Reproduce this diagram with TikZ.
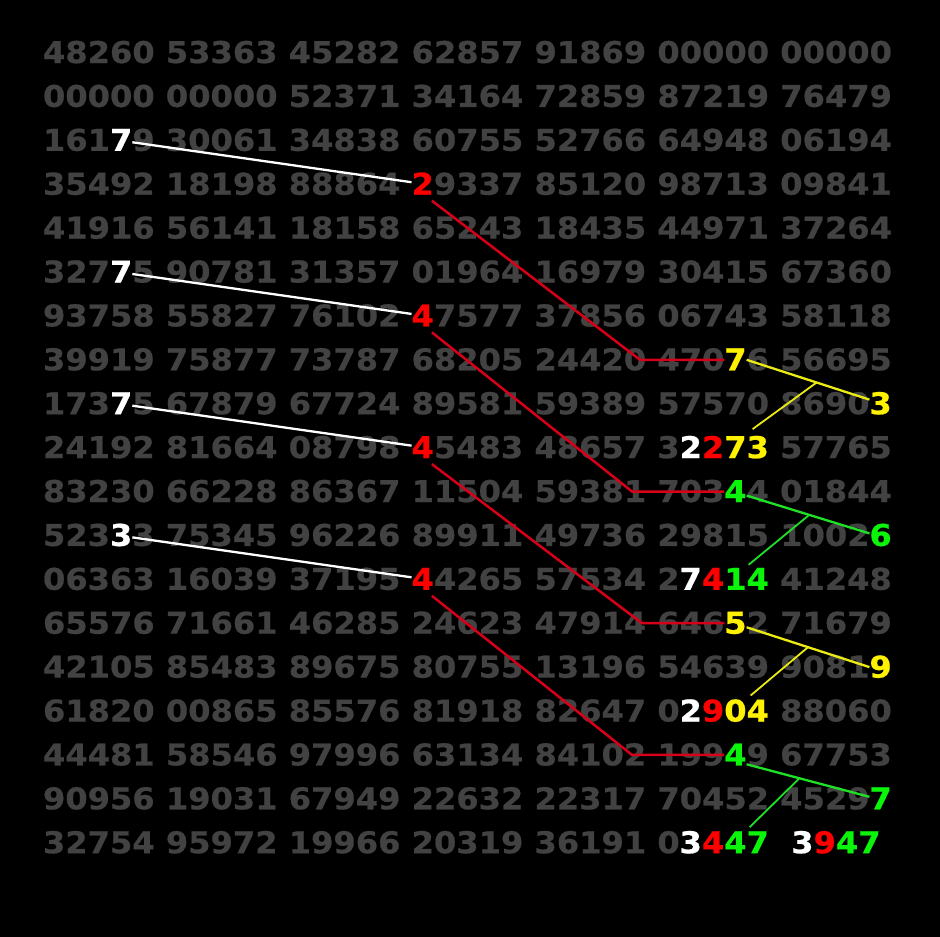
\documentclass[tikz,border=0pt]{standalone}
\usepackage{fontspec}
\usepackage{tikz}
\usetikzlibrary{positioning}

\newfontfamily\numfont{DejaVu Sans}[FakeStretch=1.07, FakeBold=0.7]

\definecolor{numgray}{RGB}{66,66,66}
\definecolor{neon}{RGB}{10,245,10}
\definecolor{lnred}{RGB}{215,0,25}
\definecolor{lnyel}{RGB}{235,235,20}
\definecolor{lngrn}{RGB}{30,225,40}

\begin{document}
\begin{tikzpicture}[x=1pt,y=-1pt,
  dig/.style={font=\numfont\bfseries\fontsize{30}{36}\selectfont, inner sep=0pt, outer sep=0pt, text height=22pt, text depth=1pt},
  gry/.style={dig, text=numgray},
  wht/.style={dig, text=white},
  rd/.style={dig, text=red},
  yl/.style={dig, text=yellow},
  gn/.style={dig, text=neon},
  wline/.style={white, line width=2.3pt},
  rline/.style={lnred, line width=2.5pt},
  yline/.style={lnyel, line width=2.3pt},
  ybranch/.style={lnyel, line width=1.8pt},
  gline/.style={lngrn, line width=2.3pt},
  gbranch/.style={lngrn, line width=1.8pt}]

\fill[black] (0,0) rectangle (940,937);

\node[gry, anchor=base west] (a1) at (43,63) {48260 53363 45282 62857 91869 00000 00000};
\node[gry, anchor=base west] (a2) at (43,106.9) {00000 00000 52371 34164 72859 87219 76479};

\node[gry, anchor=base west] (a3) at (43,150.8) {161};
\node[wht, right=0pt of a3] (w1) {7};
\node[gry, right=0pt of w1] (b3) {9 30061 34838 60755 52766 64948 06194};

\node[gry, anchor=base west] (a4) at (43,194.7) {35492 18198 88864\ \null};
\node[rd, right=0pt of a4] (r1) {2};
\node[gry, right=0pt of r1] (b4) {9337 85120 98713 09841};

\node[gry, anchor=base west] (a5) at (43,238.6) {41916 56141 18158 65243 18435 44971 37264};

\node[gry, anchor=base west] (a6) at (43,282.5) {327};
\node[wht, right=0pt of a6] (w2) {7};
\node[gry, right=0pt of w2] (b6) {5 90781 31357 01964 16979 30415 67360};

\node[gry, anchor=base west] (a7) at (43,326.4) {93758 55827 76102\ \null};
\node[rd, right=0pt of a7] (r2) {4};
\node[gry, right=0pt of r2] (b7) {7577 37856 06743 58118};

\node[gry, anchor=base west] (a8) at (43,370.3) {39919 75877 73787 68205 24420 470};
\node[yl, right=0pt of a8] (h1) {7};
\node[gry, right=0pt of h1] (b8) {6 56695};

\node[gry, anchor=base west] (a9) at (43,414.2) {173};
\node[wht, right=0pt of a9] (w3) {7};
\node[gry, right=0pt of w3] (b9) {5 67879 67724 89581 59389 57570 8690};
\node[yl, right=0pt of b9] (e1) {3};

\node[gry, anchor=base west] (a10) at (43,458.1) {24192 81664 08798\ \null};
\node[rd, right=0pt of a10] (r3) {4};
\node[gry, right=0pt of r3] (b10) {5483 48657 3};
\node[wht, right=0pt of b10] (u1) {2};
\node[rd, right=0pt of u1] (v1) {2};
\node[yl, right=0pt of v1] (x1) {73};
\node[gry, right=0pt of x1] (c10) {\ 57765};

\node[gry, anchor=base west] (a11) at (43,502) {83230 66228 86367 11504 59381 703};
\node[gn, right=0pt of a11] (h2) {4};
\node[gry, right=0pt of h2] (b11) {4 01844};

\node[gry, anchor=base west] (a12) at (43,545.9) {523};
\node[wht, right=0pt of a12] (w4) {3};
\node[gry, right=0pt of w4] (b12) {3 75345 96226 89911 49736 29815 1002};
\node[gn, right=0pt of b12] (e2) {6};

\node[gry, anchor=base west] (a13) at (43,589.8) {06363 16039 37195\ \null};
\node[rd, right=0pt of a13] (r4) {4};
\node[gry, right=0pt of r4] (b13) {4265 57534 2};
\node[wht, right=0pt of b13] (u2) {7};
\node[rd, right=0pt of u2] (v2) {4};
\node[gn, right=0pt of v2] (x2) {14};
\node[gry, right=0pt of x2] (c13) {\ 41248};

\node[gry, anchor=base west] (a14) at (43,633.7) {65576 71661 46285 24623 47914 646};
\node[yl, right=0pt of a14] (h3) {5};
\node[gry, right=0pt of h3] (b14) {2 71679};

\node[gry, anchor=base west] (a15) at (43,677.6) {42105 85483 89675 80755 13196 54639 9081};
\node[yl, right=0pt of a15] (e3) {9};

\node[gry, anchor=base west] (a16) at (43,721.5) {61820 00865 85576 81918 82647 0};
\node[wht, right=0pt of a16] (u3) {2};
\node[rd, right=0pt of u3] (v3) {9};
\node[yl, right=0pt of v3] (x3) {04};
\node[gry, right=0pt of x3] (c16) {\ 88060};

\node[gry, anchor=base west] (a17) at (43,765.4) {44481 58546 97996 63134 84102 199};
\node[gn, right=0pt of a17] (h4) {4};
\node[gry, right=0pt of h4] (b17) {9 67753};

\node[gry, anchor=base west] (a18) at (43,809.3) {90956 19031 67949 22632 22317 70452 4529};
\node[gn, right=0pt of a18] (e4) {7};

\node[gry, anchor=base west] (a19) at (43,853.2) {32754 95972 19966 20319 36191 0};
\node[wht, right=0pt of a19] (u4) {3};
\node[rd, right=0pt of u4] (v4) {4};
\node[gn, right=0pt of v4] (x4) {47};
\node[wht, right=22.3pt of x4] (u5) {3};
\node[rd, right=0pt of u5] (v5) {9};
\node[gn, right=0pt of v5] (x5) {47};

\coordinate (k1) at (640,0);
\coordinate (k2) at (632,0);
\coordinate (k3) at (642,0);
\coordinate (k4) at (632,0);

\draw[wline] (w1.-10) -- (r1.170);
\draw[wline] (w2.-10) -- (r2.170);
\draw[wline] (w3.-10) -- (r3.170);
\draw[wline] (w4.-10) -- (r4.170);

\draw[rline] ([shift={(-2,5)}]r1.south east) -- (h1.west -| k1) -- (h1.west);
\draw[rline] ([shift={(-2,5)}]r2.south east) -- (h2.west -| k2) -- (h2.west);
\draw[rline] ([shift={(-2,5)}]r3.south east) -- (h3.west -| k3) -- (h3.west);
\draw[rline] ([shift={(-2,5)}]r4.south east) -- (h4.west -| k4) -- (h4.west);

\draw[yline] (h1.east) -- coordinate[pos=.57] (m1) (e1.160);
\draw[ybranch] (m1) -- ([shift={(6,-7)}]x1.north);

\draw[gline] (h2.-20) -- coordinate[pos=.51] (m2) (e2.170);
\draw[gbranch] (m2) -- ([shift={(2,-3)}]x2.north);

\draw[yline] (h3.-20) -- coordinate[pos=.5] (m3) (e3.west);
\draw[ybranch] (m3) -- ([shift={(4,-4)}]x3.north);

\draw[gline] (h4.-40) -- coordinate[pos=.43] (m4) (e4.170);
\draw[gbranch] (m4) -- ([shift={(3,-4)}]x4.north);

\end{tikzpicture}
\end{document}
